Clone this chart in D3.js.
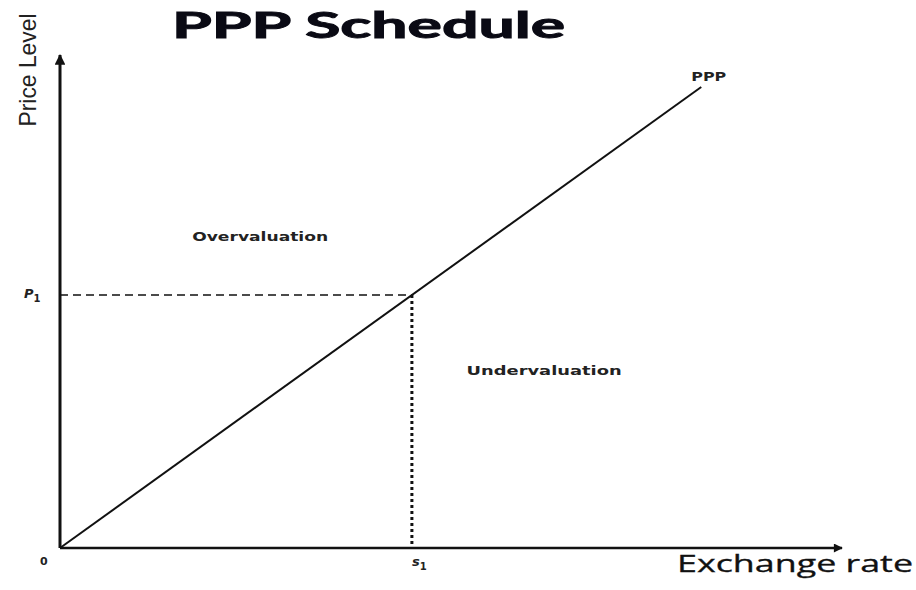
<!DOCTYPE html>
<html>
<head>
<meta charset="utf-8">
<script src="https://cdn.jsdelivr.net/npm/d3@7"></script>
<style>
  html, body { margin: 0; padding: 0; background: #fff; }
  svg { display: block; }
</style>
</head>
<body>
<svg id="chart" width="916" height="590"></svg>
<script>
// Purchasing-power-parity schedule: price level against exchange rate
const pppLine = [[0, 0], [8.2, 9.35]];     // PPP schedule endpoints (exchange rate, price level)
const s1 = 4.5;                             // equilibrium exchange rate
const p1 = s1 * (9.35 / 8.2);               // price level on the PPP line at s1
const axisLabels = { x: "Exchange rate", y: "Price Level" };
const regionLabels = [
  { text: "Overvaluation", x: 1.69, y: 6.23, width: 136 },
  { text: "Undervaluation", x: 5.2, y: 3.5, width: 155 }
];
const pointLabels = { p: "P", s: "s", sub: "1", origin: "0", line: "PPP" };

const svg = d3.select("#chart");
const x = d3.scaleLinear().domain([0, 10]).range([60, 842]);
const y = d3.scaleLinear().domain([0, 10]).range([548, 55]);

const defs = svg.append("defs");
defs.append("marker")
  .attr("id", "arrow")
  .attr("viewBox", "0 0 10 10")
  .attr("refX", 9).attr("refY", 5)
  .attr("markerWidth", 5).attr("markerHeight", 3.6)
  .attr("markerUnits", "strokeWidth")
  .attr("orient", "auto")
  .append("path").attr("d", "M0,0 L10,5 L0,10 Z").attr("fill", "#111");

// Title
svg.append("text")
  .attr("x", 172).attr("y", 38)
  .attr("font-family", "Lato, 'Open Sans', sans-serif")
  .attr("font-weight", 700)
  .attr("font-size", 36)
  .attr("textLength", 393)
  .attr("lengthAdjust", "spacingAndGlyphs")
  .attr("fill", "#0a0a14")
  .attr("stroke", "#0a0a14").attr("stroke-width", 1)
  .text("PPP Schedule");

// Axes with arrowheads
svg.append("line")
  .attr("x1", x(0)).attr("y1", y(0)).attr("x2", x(0)).attr("y2", y(10))
  .attr("stroke", "#111").attr("stroke-width", 3).attr("marker-end", "url(#arrow)");
svg.append("line")
  .attr("x1", x(0)).attr("y1", y(0)).attr("x2", x(10)).attr("y2", y(0))
  .attr("stroke", "#111").attr("stroke-width", 2.5).attr("marker-end", "url(#arrow)");

// Guide lines to P1 and s1
svg.append("line")
  .attr("x1", x(0)).attr("y1", y(p1)).attr("x2", x(s1)).attr("y2", y(p1))
  .attr("stroke", "#111").attr("stroke-width", 1.6).attr("stroke-dasharray", "8,5");
svg.append("line")
  .attr("x1", x(s1)).attr("y1", y(p1)).attr("x2", x(s1)).attr("y2", y(0))
  .attr("stroke", "#111").attr("stroke-width", 3).attr("stroke-dasharray", "3,3");

// PPP schedule
svg.append("path")
  .datum(pppLine)
  .attr("d", d3.line().x(d => x(d[0])).y(d => y(d[1])))
  .attr("fill", "none").attr("stroke", "#111").attr("stroke-width", 2);

// Axis titles
svg.append("text")
  .attr("transform", `translate(36,70) rotate(-90)`)
  .attr("text-anchor", "middle")
  .attr("font-family", "'Liberation Sans Narrow', 'Liberation Sans', sans-serif")
  .attr("font-size", 24)
  .attr("textLength", 113)
  .attr("lengthAdjust", "spacingAndGlyphs")
  .attr("fill", "#222")
  .text(axisLabels.y);
svg.append("text")
  .attr("x", 677).attr("y", 572)
  .attr("font-family", "'Open Sans', sans-serif")
  .attr("font-size", 23)
  .attr("textLength", 236)
  .attr("lengthAdjust", "spacingAndGlyphs")
  .attr("fill", "#111")
  .attr("stroke", "#111").attr("stroke-width", 0.3)
  .text(axisLabels.x);

// Small diagram labels
const small = { "font-family": "'DejaVu Sans', sans-serif", "font-weight": 700, fill: "#222" };
function label(t, px, py, size, len) {
  const el = svg.append("text").attr("x", px).attr("y", py).attr("font-size", size);
  Object.entries(small).forEach(([k, v]) => el.attr(k, v));
  if (len) el.attr("textLength", len).attr("lengthAdjust", "spacingAndGlyphs");
  el.text(t);
  return el;
}
regionLabels.forEach(r => label(r.text, x(r.x), y(r.y), 13, r.width));
label(pointLabels.line, x(8.2) - 10, y(9.35) - 6, 12, 35);
label(pointLabels.origin, x(0) - 20, y(0) + 17, 11);

const pl = label(pointLabels.p, x(0) - 36, y(p1) + 3, 13);
pl.attr("font-style", "italic");
pl.append("tspan").attr("font-size", 10).attr("dy", 4).attr("font-style", "normal").text(pointLabels.sub);
const sl = label(pointLabels.s, x(s1), y(0) + 18, 13);
sl.attr("font-style", "italic");
sl.append("tspan").attr("font-size", 10).attr("dy", 4).attr("font-style", "normal").text(pointLabels.sub);
</script>
</body>
</html>
